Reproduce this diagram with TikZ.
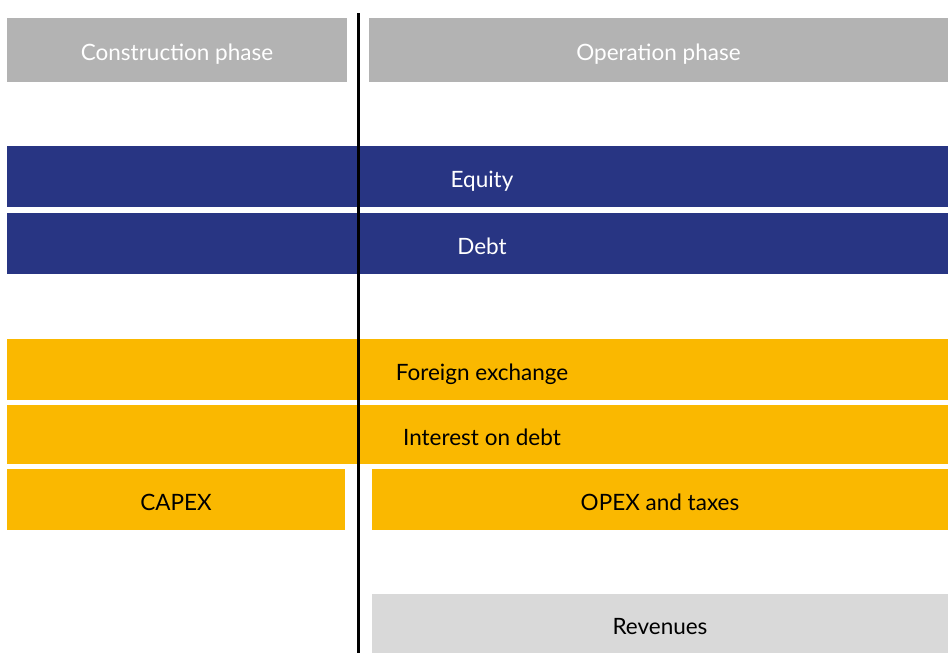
\documentclass[tikz,border=0pt]{standalone}
\usepackage{fontspec}
\setmainfont{Lato}
\usepackage{tikz}

\definecolor{phasegray}{HTML}{B3B3B3}
\definecolor{fundblue}{HTML}{283583}
\definecolor{costorange}{HTML}{FAB800}
\definecolor{revgray}{HTML}{D9D9D9}

\begin{document}
\begin{tikzpicture}[x=1pt, y=-1pt,
    bar/.style={anchor=north west, inner sep=0pt, outer sep=0pt,
      text height=21pt, text depth=0pt,
      font=\fontsize{22.5}{26}\selectfont},
    phase/.style={bar, fill=phasegray, text=white},
    fund/.style={bar, fill=fundblue, text=white},
    cost/.style={bar, fill=costorange, text=black},
    revenue/.style={bar, fill=revgray, text=black}]
      \useasboundingbox (0,0) rectangle (948,653);
      % phases
      \node[phase, minimum width=340pt, minimum height=64pt] (construction) at (7,18) {Construction phase};
      \node[phase, minimum width=579pt, minimum height=64pt] (operation) at (369,18) {Operation phase};
      % financing (runs past the right edge)
      \node[fund, minimum width=950pt, minimum height=61pt] (equity) at (7,146) {Equity};
      \node[fund, minimum width=950pt, minimum height=61pt] (debt) at (7,213) {Debt};
      % costs
      \node[cost, minimum width=950pt, minimum height=61pt] (forex) at (7,339) {Foreign exchange};
      \node[cost, minimum width=950pt, minimum height=59pt] (interest) at (7,405) {Interest on debt};
      \node[cost, minimum width=338pt, minimum height=61pt] (capex) at (7,469) {CAPEX};
      \node[cost, minimum width=576pt, minimum height=61pt] (opex) at (372,469) {OPEX and taxes};
      % revenues
      \node[revenue, minimum width=576pt, minimum height=59pt] (revenues) at (372,594) {Revenues};
      % start of operation
      \coordinate (cod top) at (358.5,13);
      \coordinate (cod bottom) at (358.5,653);
      \draw[line width=2.5pt] (cod top) -- (cod bottom);
    \end{tikzpicture}
\end{document}
